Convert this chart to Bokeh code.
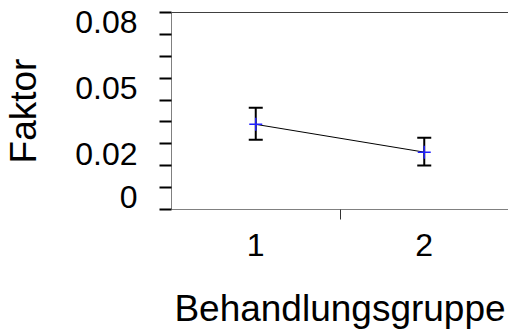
from bokeh.plotting import figure
from bokeh.models import Range1d, FixedTicker, LinearAxis, ColumnDataSource, Whisker, TeeHead
from bokeh.embed import file_html
from bokeh.resources import INLINE

# ---- data ----
groups = [1, 2]
group_labels = ["1", "2"]
means = [0.0289, 0.0162]
upper = [0.0365, 0.0228]
lower = [0.0219, 0.0101]

y_tick_values = [-0.01, 0.0, 0.01, 0.02, 0.03, 0.04, 0.05, 0.06, 0.07, 0.08]
y_label_values = [0.08, 0.05, 0.02, 0.0]
y_label_texts = ["0.08", "0.05", "0.02", "0"]
x_boundary = [1.5]

LABEL_SHIFT = 0.0045  # labels sit just below their tick marks in the original
FONT = "Liberation Sans"

p = figure(width=508, height=333, output_backend="svg", toolbar_location=None,
           x_range=Range1d(0.5, 2.5), y_range=Range1d(-0.01, 0.08),
           min_border_left=164, min_border_right=0, min_border_top=12,
           min_border_bottom=124)
p.outline_line_color = None
p.grid.visible = False
p.background_fill_color = "white"
p.border_fill_color = "white"

src = ColumnDataSource(dict(x=groups, m=means, u=upper, l=lower))

p.line("x", "m", source=src, line_color="black", line_width=1)
w = Whisker(base="x", upper="u", lower="l", source=src, line_color="black", line_width=2,
            upper_head=TeeHead(size=14, line_width=2, line_color="black"),
            lower_head=TeeHead(size=14, line_width=2, line_color="black"))
p.add_layout(w)
p.scatter("x", "m", source=src, marker="cross", size=13, line_color="#2020ff", line_width=1.5)

# y axis
ya = p.yaxis[0]
label_pos = [v - LABEL_SHIFT for v in y_label_values]
ya.ticker = FixedTicker(ticks=label_pos, minor_ticks=y_tick_values)
ya.major_label_overrides = {pos: t for pos, t in zip(label_pos, y_label_texts)}
ya.major_tick_line_color = None
ya.major_tick_out = 0
ya.major_tick_in = 0
ya.minor_tick_out = 12
ya.minor_tick_in = 0
ya.minor_tick_line_color = "black"
ya.minor_tick_line_width = 2
ya.axis_line_color = "#808080"
ya.axis_line_width = 1
ya.major_label_standoff = 22
ya.major_label_text_font = FONT
ya.major_label_text_font_size = "32px"
ya.major_label_text_color = "black"
ya.axis_label = "Faktor"
ya.axis_label_text_font = FONT
ya.axis_label_text_font_size = "37px"
ya.axis_label_text_font_style = "normal"
ya.axis_label_text_color = "black"
ya.axis_label_standoff = 28

# x axis
xa = p.xaxis[0]
xa.ticker = FixedTicker(ticks=groups, minor_ticks=x_boundary)
xa.major_label_overrides = {g: t for g, t in zip(groups, group_labels)}
xa.major_tick_line_color = None
xa.major_tick_out = 0
xa.major_tick_in = 0
xa.minor_tick_out = 10
xa.minor_tick_in = 0
xa.minor_tick_line_color = "#333333"
xa.minor_tick_line_width = 1
xa.axis_line_color = "#808080"
xa.axis_line_width = 1
xa.major_label_standoff = 14
xa.major_label_text_font = FONT
xa.major_label_text_font_size = "32px"
xa.major_label_text_color = "black"
xa.axis_label = "Behandlungsgruppe"
xa.axis_label_text_font = FONT
xa.axis_label_text_font_size = "37px"
xa.axis_label_text_font_style = "normal"
xa.axis_label_text_color = "black"
xa.axis_label_standoff = 29

# top frame line
top = LinearAxis(ticker=FixedTicker(ticks=[]), axis_line_color="#404040", axis_line_width=1,
                 major_tick_line_color=None, minor_tick_line_color=None,
                 major_label_text_font_size="0px", major_tick_out=0, major_tick_in=0,
                 minor_tick_out=0, minor_tick_in=0)
p.add_layout(top, "above")

open("out.html", "w").write(file_html(p, INLINE))
